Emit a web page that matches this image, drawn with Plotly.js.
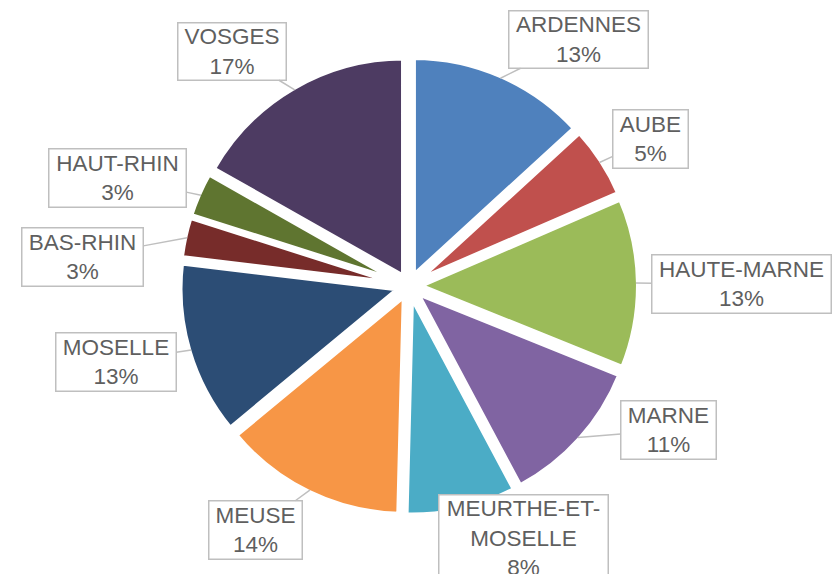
<!DOCTYPE html>
<html>
<head>
<meta charset="utf-8">
<script src="https://cdn.plot.ly/plotly-3.0.1.min.js"></script>
<style>html,body{margin:0;padding:0;background:#fff}#chart{width:838px;height:574px}</style>
</head>
<body>
<div id="chart"></div>
<script>
// Data
const departments = ["ARDENNES","AUBE","HAUTE-MARNE","MARNE","MEURTHE-ET-MOSELLE","MEUSE","MOSELLE","BAS-RHIN","HAUT-RHIN","VOSGES"];
const shares = [13.2, 5.3, 12.6, 11.1, 8.2, 13.6, 12.9, 3.0, 3.3, 16.8];
const labelText = ["ARDENNES","AUBE","HAUTE-MARNE","MARNE","MEURTHE-ET-<br>MOSELLE","MEUSE","MOSELLE","BAS-RHIN","HAUT-RHIN","VOSGES"];

// Styles / layout
const colors = ["#4F81BD","#C0504D","#9BBB59","#8064A2","#4BACC6","#F79646","#2C4D75","#772C2A","#5F7530","#4D3B62"];
// label box centre (px) and size (px)
const boxCX = [578.5, 650.5, 741.5, 668.5, 523.5, 255.5, 116, 82.5, 117.5, 232];
const boxCY = [39.5, 139, 284, 430, 538, 530, 362, 257, 178, 51.5];
const boxW  = [141, 77, 181, 97, 171, 95, 122, 123, 139, 110];
const boxH  = [59, 60, 60, 60, 88, 60, 60, 60, 60, 59];
const showLeader = [true,true,true,true,false,true,true,true,true,true];

const W = 838, H = 574;
const dom = {x:[0.2143,0.7619], y:[0.1021,0.9016]};
const pull = 0.05;
const rx = W*(dom.x[1]-dom.x[0])/2, ry = H*(dom.y[1]-dom.y[0])/2;
const r = Math.min(rx, ry)/(1+pull);
const cx = W*(dom.x[0]+dom.x[1])/2;
const cy = H*(1-dom.y[0]) - ry;
const Rt = r*(1+pull) - 2.5;

const total = shares.reduce((a,b)=>a+b,0);
let cum = 0;
const annotations = [];
shares.forEach((v,i)=>{
  const mid = (cum + v/2)/total*2*Math.PI;
  cum += v;
  const pct = Math.round(v/total*100);
  const tx = cx + Rt*Math.sin(mid), ty = cy - Rt*Math.cos(mid);
  const base = {
    text: labelText[i] + "<br>" + pct + "%",
    font: {family: "Liberation Sans, Arial, sans-serif", size: 22.5, color: "#5f5f5f"},
    bgcolor: "#ffffff", bordercolor: "#BFBFBF", borderwidth: 1.5, borderpad: 0,
    width: boxW[i]-3, height: boxH[i]-3, align: "center", valign: "middle",
    xref: "paper", yref: "paper"
  };
  if (showLeader[i]) {
    annotations.push(Object.assign(base, {
      x: tx/W, y: 1 - ty/H, showarrow: true, arrowhead: 0, arrowwidth: 1.5,
      arrowcolor: "#BFBFBF", standoff: 0,
      ax: boxCX[i]-tx, ay: boxCY[i]-ty
    }));
  } else {
    annotations.push(Object.assign(base, {
      x: boxCX[i]/W, y: 1 - boxCY[i]/H, showarrow: false,
      xanchor: "center", yanchor: "middle"
    }));
  }
});

const trace = {
  type: "pie",
  labels: departments,
  values: shares,
  sort: false,
  direction: "clockwise",
  rotation: 0,
  pull: pull,
  textinfo: "none",
  hoverinfo: "label+percent",
  marker: {colors: colors, line: {color: "#ffffff", width: 5}},
  domain: dom,
  showlegend: false
};

Plotly.newPlot("chart", [trace], {
  width: W, height: H,
  margin: {l:0, r:0, t:0, b:0},
  paper_bgcolor: "#ffffff",
  showlegend: false,
  annotations: annotations
}, {displayModeBar: false, staticPlot: true});
</script>
</body>
</html>
